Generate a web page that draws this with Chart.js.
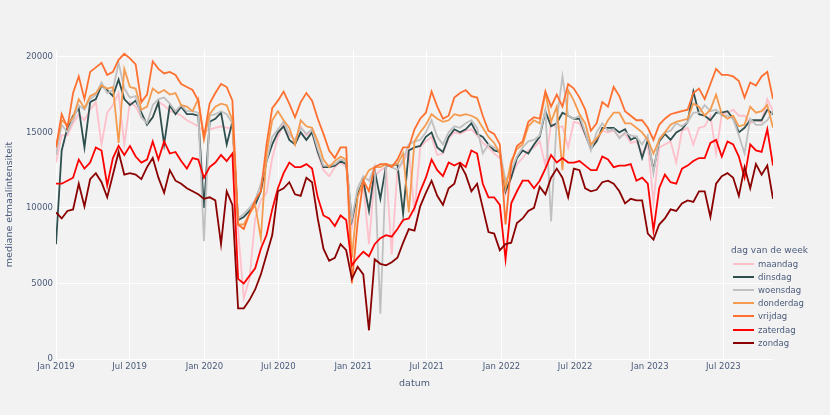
<!DOCTYPE html>
<html lang="nl">
<head>
    <meta charset="UTF-8">
    <title>Mediane etmaalintensiteit per dag van de week</title>
    <script src="https://cdn.jsdelivr.net/npm/chart.js@4.4.0/dist/chart.umd.min.js"></script>
    <style>
        body {
            margin: 0;
            background-color: #f2f2f2;
            font-family: "DejaVu Sans", Verdana, sans-serif;
        }
        .wrap {
            position: relative;
            width: 830px;
            height: 415px;
        }
        #legend {
            position: absolute;
            left: 731px;
            top: 243px;
            color: #4b5b7b;
            font-size: 8.5px;
        }
        #legend .title {
            height: 14px;
            line-height: 14px;
            font-size: 9px;
        }
        #legend .item {
            display: flex;
            align-items: center;
            height: 13.2px;
        }
        #legend .swatch {
            display: inline-block;
            width: 21px;
            height: 2px;
            margin-left: 2px;
            margin-right: 4px;
        }
    </style>
</head>
<body>
<div class="wrap">
    <canvas id="chart" width="830" height="415"></canvas>
    <div id="legend"><div class="title">dag van de week</div></div>
</div>

<script>
    // one value every two weeks, starting 1 Jan 2019
    const startDate = '2019-01-01';
    const stepDays = 14;

    const dayNames = ['maandag', 'dinsdag', 'woensdag', 'donderdag', 'vrijdag', 'zaterdag', 'zondag'];
    const dayColors = ['#ffc0cb', '#2f4f4f', '#c0c0c0', '#f59b4f', '#ff7030', '#ff0000', '#8b0000'];

    const maandag = [
        13000, 14800, 14800, 15600, 16200, 15800, 16500, 17000, 14200, 16300, 16800, 17600, 14200, 17000, 16700, 16000, 15600, 16000,
        17000, 16800, 16400, 16300, 16100, 15800, 15600, 15400, 15000, 15200, 15300, 15400, 15300, 15300, 8500, 4000, 5300, 9300, 10500, 11000, 13300, 14700,
        15600, 14800, 14500, 15400, 14800, 15000, 13600, 12500, 12100, 12700, 13000, 12700, 8700, 10700, 11600, 7600, 12100, 12500, 12700, 6900, 12500, 13000,
        13800, 9700, 14000, 14400, 14700, 13500, 13600, 14600, 15000, 14900, 15100, 15200, 14800, 14300, 14000, 13600, 13300, 10900, 12100, 12900, 13300, 13800, 14000,
        14400, 12800, 15600, 15300, 15400, 14000, 15700, 15600, 14800, 14000, 14400, 15100, 15000, 15100, 14700, 14900, 14300, 14400, 13600, 14200,
        10400, 14000, 14200, 14400, 13000, 15100, 15300, 14200, 15300, 15400, 16100, 13600, 16200, 16300, 16500, 16100, 16100, 15600, 15800, 15700, 17200, 16400
    ];
    const dinsdag = [
        7600, 13800, 15300, 16100, 16600, 14000, 17000, 17200, 18100, 17800, 17400, 18500, 17200, 16800, 17100, 16300, 15500, 16000,
        17000, 14200, 16800, 16200, 16700, 16200, 16200, 16100, 10000, 15700, 15900, 16300, 14200, 15700, 9200, 9400, 9800, 10200, 11100, 13100, 14200, 15000,
        15400, 14500, 14200, 15000, 14500, 15000, 13700, 12700, 12700, 12800, 13100, 12900, 9200, 10900, 11800, 9800, 12500, 10600, 12800, 12800, 12900, 9600,
        13800, 14000, 14100, 14700, 15000, 14000, 13700, 14700, 15200, 15000, 15200, 15600, 14900, 14700, 14200, 13800, 13700, 11100, 12000, 13300, 13800, 13600, 14200,
        14700, 16400, 15400, 15600, 16300, 16100, 15900, 15900, 14900, 13900, 14400, 15300, 15300, 15300, 15000, 15200, 14500, 14700, 13300, 14500,
        12500, 14400, 14900, 14500, 15000, 15200, 15700, 17700, 16200, 16100, 15800, 16300, 16300, 16400, 15900, 15000, 15300, 15800, 15800, 15800, 16500, 16200
    ];
    const woensdag = [
        13500, 15500, 15000, 15800, 16800, 16500, 17200, 17500, 18300, 17600, 17800, 19600, 17900, 17300, 17400, 16000, 15600, 16800,
        17200, 17300, 16900, 16400, 16800, 16400, 16400, 16300, 7800, 16100, 16200, 16400, 16200, 15600, 9300, 9600, 10000, 10500, 11600, 13100, 14700, 15200,
        15700, 14900, 14500, 15300, 14900, 15200, 13900, 12800, 12800, 12900, 13200, 13100, 9300, 11300, 12100, 11800, 12700, 3000, 12900, 12700, 12500, 13200,
        14200, 14400, 14500, 15000, 15800, 14700, 14200, 15000, 15400, 15300, 15600, 15800, 15300, 13600, 14200, 14000, 13800, 11800, 12500, 13400, 14000, 14400, 14500,
        14800, 16500, 9100, 15800, 18700, 16100, 15900, 16100, 15000, 13800, 15000, 15600, 15100, 15200, 14600, 15000, 14800, 14700, 14200, 14800,
        12300, 14600, 15000, 15100, 15600, 15400, 15700, 16300, 16300, 16800, 16400, 16500, 16100, 16100, 15900, 14800, 13600, 15900, 15500, 15500, 15800, 16400
    ];
    const donderdag = [
        14000, 15800, 15500, 16000, 17200, 16600, 17400, 17600, 18100, 17900, 18000, 14300, 19200, 18000, 17900, 16500, 16700, 17900,
        17600, 17800, 17500, 17600, 16800, 16700, 16400, 17200, 14500, 16200, 16700, 16900, 16800, 15800, 8900, 8900, 9600, 10200, 8000, 13600, 15800, 16400,
        15800, 15300, 14200, 15800, 15400, 15300, 14400, 13200, 12700, 13100, 13400, 13200, 6700, 10700, 11800, 12500, 12700, 12700, 12900, 12800, 12900, 13600,
        9700, 14400, 15000, 15500, 16200, 15900, 15700, 15800, 16200, 16100, 16200, 16100, 15900, 15300, 14700, 14300, 13600, 11300, 13100, 13900, 14200, 15400, 15800,
        15600, 17600, 15700, 16700, 12500, 17800, 17100, 16200, 15600, 14200, 14600, 15100, 15800, 16300, 16300, 15600, 15600, 15300, 15000, 14500,
        13600, 14500, 15000, 15500, 15700, 15800, 15900, 16900, 16700, 16100, 16500, 17500, 16200, 15900, 16100, 15400, 15500, 16700, 16300, 16400, 16800, 15300
    ];
    const vrijdag = [
        14000, 16200, 15300, 17600, 18700, 17200, 19000, 19300, 19600, 18800, 19000, 19800, 20200, 19900, 19500, 17000, 17500, 19700,
        19200, 18900, 19000, 18800, 18200, 18000, 17800, 17100, 14700, 16900, 17600, 18200, 18000, 17100, 8900, 8600, 9600, 10500, 11100, 14200, 16600, 17100,
        17700, 16900, 16000, 17000, 17600, 17100, 15900, 14900, 13800, 13300, 14000, 14000, 5000, 9000, 11800, 11100, 12700, 12900, 12900, 12700, 13200, 14000,
        14000, 15200, 15900, 16300, 17700, 16700, 15900, 16100, 17300, 17600, 17800, 17400, 17300, 16100, 15100, 14900, 14200, 8900, 12900, 14100, 14400, 15700, 16000,
        15900, 17700, 16700, 17500, 16700, 18200, 17900, 17300, 16500, 15100, 15600, 17000, 16700, 18000, 17400, 16400, 16100, 15800, 15800, 15300,
        14500, 15500, 15900, 16200, 16300, 16400, 16500, 17600, 17900, 17200, 18200, 19200, 18800, 18800, 18700, 18400, 17300, 18300, 18100, 18700, 19000, 17200
    ];
    const zaterdag = [
        11600, 11600, 11800, 12000, 13200, 12600, 13000, 14000, 13800, 11500, 13300, 14100, 13500, 14100, 13400, 13000, 13200, 14400,
        13200, 14400, 13600, 13700, 13100, 12600, 13300, 13200, 12000, 12700, 13000, 13500, 13100, 13600, 5300, 5000, 5500, 6000, 7300, 8200, 9900, 11300,
        12300, 13000, 12700, 12700, 12900, 12600, 10700, 9500, 9300, 8800, 9500, 9200, 6200, 6700, 7100, 6800, 7600, 8000, 8200, 8100, 8600, 9200,
        9300, 10000, 11100, 12000, 13200, 12500, 12100, 13000, 12800, 13000, 12700, 13800, 13600, 11600, 10700, 10700, 10200, 6600, 10300, 11100, 11800, 11800, 11300,
        11800, 12600, 13500, 13000, 13300, 13000, 13000, 13100, 12800, 12500, 12500, 13400, 13200, 12700, 12800, 12800, 12900, 11800, 12000, 11600,
        8500, 11300, 12200, 11700, 11600, 12600, 12800, 13100, 13300, 13300, 14300, 14500, 13400, 14400, 14200, 13400, 12000, 14200, 13800, 13700, 15200, 12800
    ];
    const zondag = [
        9700, 9300, 9800, 9900, 11600, 10100, 11900, 12300, 11700, 10700, 12200, 13700, 12200, 12300, 12200, 11900, 12700, 13300,
        12000, 11000, 12500, 11800, 11600, 11300, 11100, 10900, 10600, 10700, 10500, 7600, 11100, 10200, 3350, 3350, 3900, 4600, 5600, 6900, 8200, 11100,
        11300, 11700, 10900, 10800, 12000, 11700, 9300, 7300, 6500, 6700, 7600, 7200, 5300, 6100, 5600, 1900, 6600, 6300, 6200, 6400, 6700, 7700,
        8600, 8500, 10100, 11000, 11800, 10800, 10200, 11300, 11600, 12900, 12200, 11100, 11600, 10000, 8400, 8300, 7200, 7600, 7700, 9000, 9300, 9800, 10000,
        11400, 10900, 12000, 12600, 12000, 10700, 12600, 12500, 11300, 11100, 11200, 11700, 11800, 11600, 11100, 10300, 10600, 10500, 10500, 8300,
        7900, 8900, 9300, 9900, 9800, 10300, 10500, 10400, 11100, 11100, 9400, 11600, 12100, 12300, 12000, 10800, 12700, 11300, 12900, 12200, 12800, 10600
    ];

    const xTickDates = ['2019-01-01', '2019-07-01', '2020-01-01', '2020-07-01', '2021-01-01', '2021-07-01',
                        '2022-01-01', '2022-07-01', '2023-01-01', '2023-07-01'];
    const xTickLabels = ['Jan 2019', 'Jul 2019', 'Jan 2020', 'Jul 2020', 'Jan 2021', 'Jul 2021',
                         'Jan 2022', 'Jul 2022', 'Jan 2023', 'Jul 2023'];
    const yTicks = [0, 5000, 10000, 15000, 20000];

    const textColor = '#4b5b7b';
    const fontFamily = '"DejaVu Sans", Verdana, sans-serif';
    const DAY = 86400000;
    const t0 = Date.parse(startDate);
    const series = [maandag, dinsdag, woensdag, donderdag, vrijdag, zaterdag, zondag];
    const nPoints = maandag.length;
    const tLast = t0 + (nPoints - 1) * stepDays * DAY;

    // later days drawn on top, like the original
    const datasets = series.map((vals, k) => ({
        label: dayNames[k],
        data: vals.map((v, i) => ({ x: t0 + i * stepDays * DAY, y: v })),
        borderColor: dayColors[k],
        backgroundColor: dayColors[k],
        borderWidth: 1.8,
        pointRadius: 0,
        tension: 0,
        fill: false,
        order: series.length - k
    }));

    new Chart(document.getElementById('chart'), {
        type: 'line',
        data: { datasets },
        options: {
            responsive: false,
            animation: false,
            devicePixelRatio: 1,
            layout: { padding: { top: 50, right: 57, bottom: 24, left: 0 } },
            plugins: {
                legend: { display: false },
                tooltip: { enabled: false }
            },
            scales: {
                x: {
                    type: 'linear',
                    min: t0,
                    max: tLast,
                    grid: { color: '#ffffff', lineWidth: 1, drawTicks: false },
                    border: { display: false },
                    afterBuildTicks: s => { s.ticks = xTickDates.map(d => ({ value: Date.parse(d) })); },
                    afterFit: s => { s.height = 32; },
                    ticks: {
                        autoSkip: false,
                        maxRotation: 0,
                        padding: 3,
                        color: textColor,
                        font: { family: fontFamily, size: 8.5 },
                        callback: (v, i) => xTickLabels[i]
                    },
                    title: {
                        display: true,
                        text: 'datum',
                        color: textColor,
                        font: { family: fontFamily, size: 9.5 },
                        padding: { top: 0, bottom: 2 }
                    }
                },
                y: {
                    min: 0,
                    max: 20450,
                    grid: { color: '#ffffff', lineWidth: 1, drawTicks: false },
                    border: { display: false },
                    afterBuildTicks: s => { s.ticks = yTicks.map(v => ({ value: v })); },
                    afterFit: s => { s.width = 56; },
                    ticks: {
                        padding: 3,
                        color: textColor,
                        font: { family: fontFamily, size: 8.5 },
                        callback: v => String(v)
                    },
                    title: {
                        display: true,
                        text: 'mediane etmaalintensiteit',
                        color: textColor,
                        font: { family: fontFamily, size: 9.5 },
                        padding: { top: 4, bottom: 0 }
                    }
                }
            }
        }
    });

    // legend as in the original, bottom right
    const legend = document.getElementById('legend');
    dayNames.forEach((name, k) => {
        const row = document.createElement('div');
        row.className = 'item';
        row.innerHTML = '<span class="swatch" style="background:' + dayColors[k] + '"></span>' + name;
        legend.appendChild(row);
    });
</script>
</body>
</html>
